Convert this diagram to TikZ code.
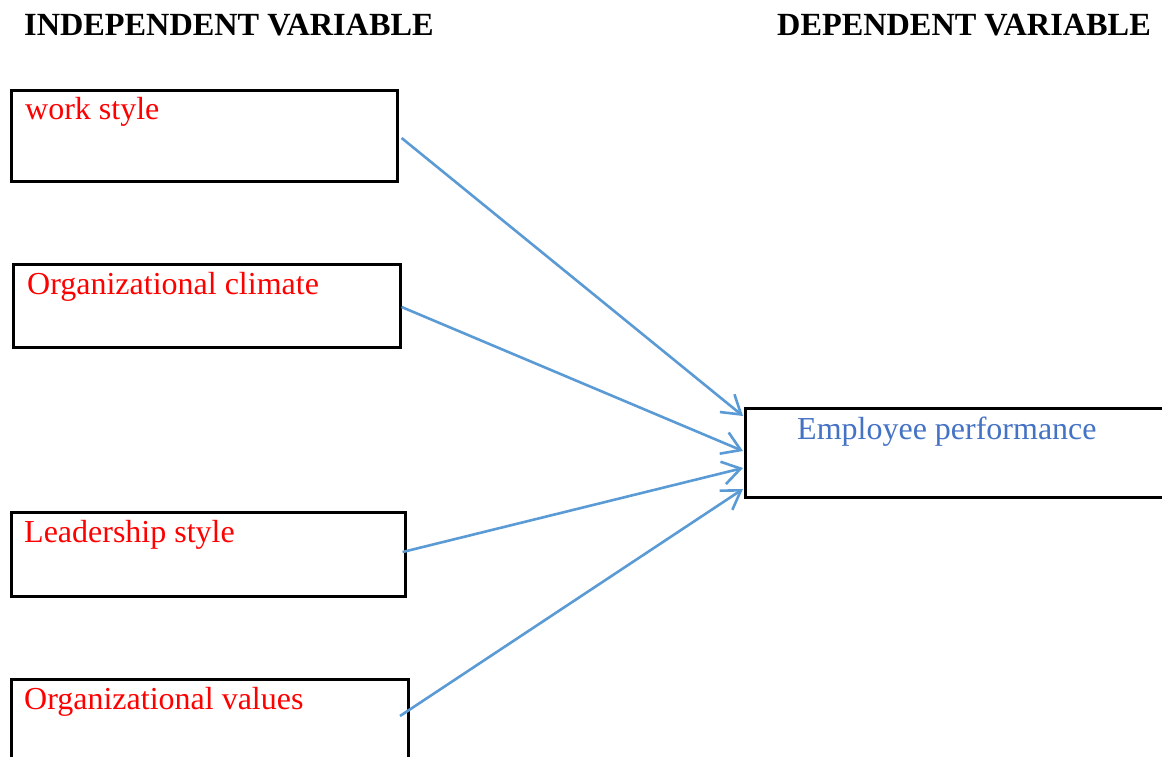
\documentclass[tikz,border=0pt]{standalone}
\usepackage{fontspec}
\setmainfont{Liberation Serif}
\usetikzlibrary{arrows.meta,calc}
\definecolor{redtxt}{HTML}{FF0000}
\definecolor{bluetxt}{HTML}{4472C4}
\definecolor{arrowblue}{HTML}{5B9BD5}
\tikzset{
  box/.style={draw=black, line width=2.6pt, inner sep=0pt, anchor=north west},
  lbl/.style={anchor=base west, inner sep=0pt, font=\fontsize{32}{36}\selectfont},
  head/.style={anchor=base west, inner sep=0pt, font=\fontsize{32.3}{36}\selectfont\bfseries},
  conn/.style={draw=arrowblue, line width=2.6pt, -{Straight Barb[length=18pt,width=23pt]}},
}
\begin{document}
\begin{tikzpicture}[x=1pt,y=-1pt]
\clip (0,0) rectangle (1162,757);
\fill[white] (0,0) rectangle (1162,757);
\node[head] (hind) at (24,36) {INDEPENDENT VARIABLE};
\node[head] (hdep) at (777,36) {DEPENDENT VARIABLE};
% boxes
\node[box, minimum width=386pt, minimum height=91pt] (ws) at (10,89) {};
\node[box, minimum width=387pt, minimum height=83pt] (oc) at (12,263) {};
\node[box, minimum width=394pt, minimum height=84pt] (ls) at (10,511) {};
\node[box, minimum width=397pt, minimum height=100pt] (ov) at (10,678) {};
\node[box, minimum width=440pt, minimum height=89pt] (ep) at (744,407) {};
% labels
\node[lbl, text=redtxt] (wst) at ($(ws.north west)+(15,31)$) {work style};
\node[lbl, text=redtxt] (oct) at ($(oc.north west)+(15,31)$) {Organizational climate};
\node[lbl, text=redtxt] (lst) at ($(ls.north west)+(14,31)$) {Leadership style};
\node[lbl, text=redtxt] (ovt) at ($(ov.north west)+(14,31)$) {Organizational values};
\node[lbl, text=bluetxt] (ept) at ($(ep.north west)+(53,32)$) {Employee performance};
% connector ends
\coordinate (s1) at ($(ws.north east)+(3,49)$);
\coordinate (s2) at ($(oc.north east)+(0,44)$);
\coordinate (s3) at ($(ls.north east)+(-4,41)$);
\coordinate (s4) at ($(ov.north west)+(390,38)$);
\coordinate (e1) at ($(ep.north west)+(-1,9)$);
\coordinate (e2) at ($(ep.north west)+(-1,44)$);
\coordinate (e3) at ($(ep.north west)+(-1,61)$);
\coordinate (e4) at ($(ep.north west)+(-1,82)$);
\draw[conn] (s1) -- (e1);
\draw[conn] (s2) -- (e2);
\draw[conn] (s3) -- (e3);
\draw[conn] (s4) -- (e4);
\end{tikzpicture}
\end{document}
